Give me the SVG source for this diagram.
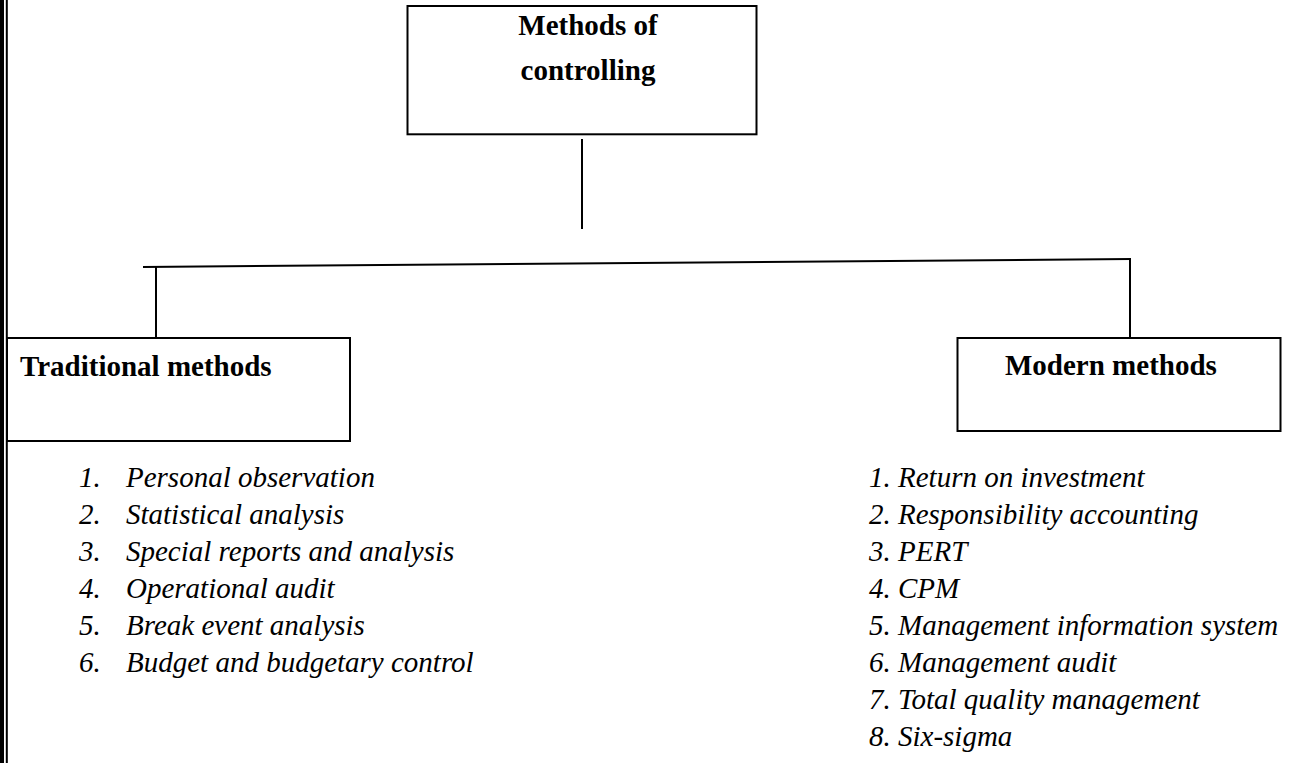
<svg xmlns="http://www.w3.org/2000/svg" width="1290" height="763" viewBox="0 0 1290 763">
  <style>
    .box { fill: #fff; stroke: #000; stroke-width: 2; }
    .wire { fill: none; stroke: #000; stroke-width: 2; }
    .head { font-family: "Liberation Serif", "Times New Roman", serif; font-weight: bold; font-size: 29px; fill: #000; }
    .item { font-family: "Liberation Serif", "Times New Roman", serif; font-style: italic; font-size: 29px; fill: #000; }
  </style>
  <rect width="1290" height="763" fill="#fff"/>

  <!-- page border on the left edge -->
  <g id="page-border">
    <rect x="0" y="0" width="4" height="763" fill="#000"/>
    <rect x="5.8" y="0" width="2" height="763" fill="#000"/>
  </g>

  <g id="connectors">
    <line class="wire" x1="582" y1="139" x2="582" y2="229"/>
    <line class="wire" x1="143" y1="267" x2="1131" y2="259"/>
    <line class="wire" x1="156" y1="267" x2="156" y2="338"/>
    <line class="wire" x1="1130" y1="259" x2="1130" y2="338"/>
  </g>

  <g id="methods-of-controlling">
    <rect class="box" x="407.5" y="6" width="349" height="128.3"/>
    <text class="head" x="588" y="35" text-anchor="middle">Methods of</text>
    <text class="head" x="588" y="80" text-anchor="middle">controlling</text>
  </g>

  <g id="traditional-methods">
    <rect class="box" x="7" y="338" width="343" height="103"/>
    <text class="head" x="20" y="376">Traditional methods</text>
  </g>

  <g id="modern-methods">
    <rect class="box" x="957.5" y="338" width="323" height="93"/>
    <text class="head" x="1005" y="375">Modern methods</text>
  </g>

  <g id="traditional-list" class="item">
    <text x="79" y="487">1.</text><text x="126" y="487">Personal observation</text>
    <text x="79" y="524">2.</text><text x="126" y="524">Statistical analysis</text>
    <text x="79" y="561">3.</text><text x="126" y="561">Special reports and analysis</text>
    <text x="79" y="598">4.</text><text x="126" y="598">Operational audit</text>
    <text x="79" y="635">5.</text><text x="126" y="635">Break event analysis</text>
    <text x="79" y="672">6.</text><text x="126" y="672">Budget and budgetary control</text>
  </g>

  <g id="modern-list" class="item">
    <text x="869" y="487">1. Return on investment</text>
    <text x="869" y="524">2. Responsibility accounting</text>
    <text x="869" y="561">3. PERT</text>
    <text x="869" y="598">4. CPM</text>
    <text x="869" y="635">5. Management information system</text>
    <text x="869" y="672">6. Management audit</text>
    <text x="869" y="709">7. Total quality management</text>
    <text x="869" y="746">8. Six-sigma</text>
  </g>
</svg>
